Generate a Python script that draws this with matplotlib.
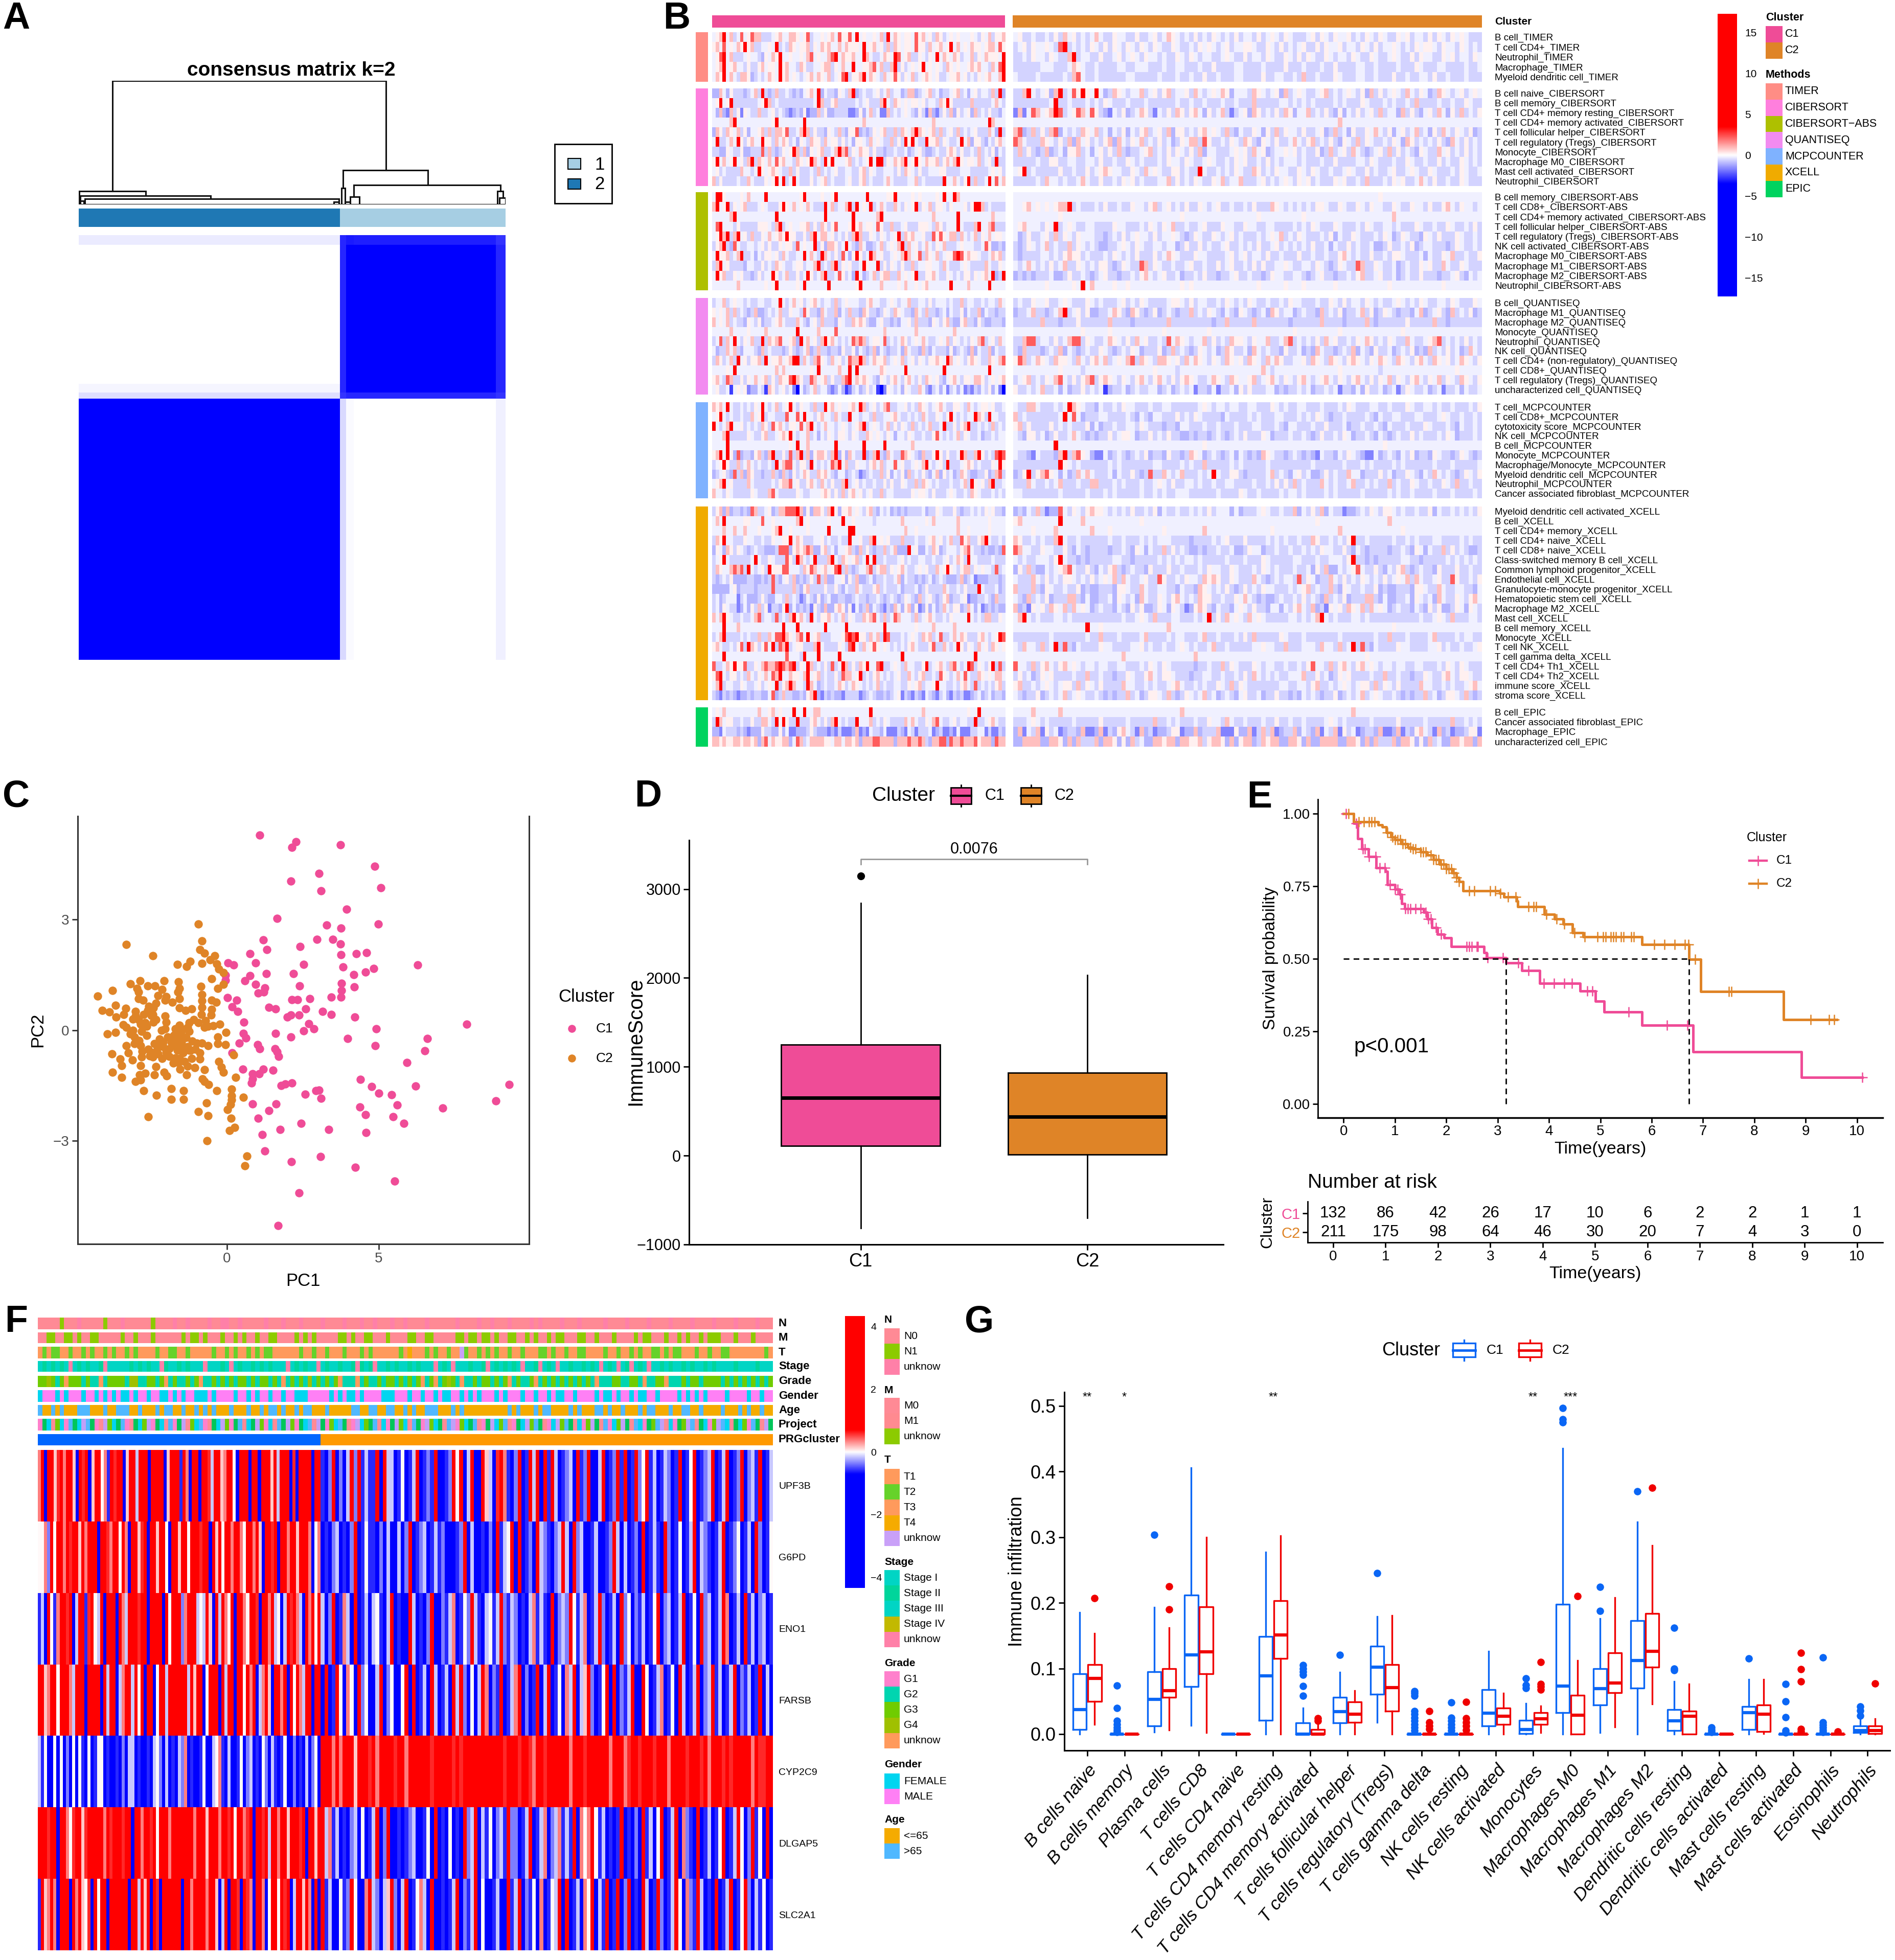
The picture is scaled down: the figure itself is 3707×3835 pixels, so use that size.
# Multi panel figure: consensus matrix, immune heatmap, PCA, boxplots, survival, gene heatmap

import numpy as np
import matplotlib
matplotlib.use("Agg")
import matplotlib.pyplot as plt
from matplotlib.colors import LinearSegmentedColormap, ListedColormap, Normalize
from matplotlib.patches import Rectangle

plt.rcParams['font.family'] = ['Liberation Sans', 'DejaVu Sans']

W, H = 3707, 3835
PINK = '#EF4C97'
ORANGE = '#DF8427'

# Panel A values
A_COL_EDGES = [0, 210, 215, 221, 335, 343]
A_ROW_EDGES = [0, 8, 120, 127, 132, 343]
A_CONSENSUS = [[.08, .85, .90, .88, .80],
               [.00, .85, 1.0, 1.0, .85],
               [.04, .85, 1.0, 1.0, .85],
               [.13, .80, .85, .85, .80],
               [1.0, .15, .02, .00, .06]]
A_MERGES = [(27, 247, 1.0, .106, .277), (.3, 54, .106, 0, .071), (1.4, 106, .071, 0, .053),
            (4.8, 209, .046, 0, 0), (212.5, 280.6, .277, .131, .156), (221, 339, .156, .064, .106),
            (211, 214, .131, 0, 0), (218, 225.5, .064, 0, 0), (336.5, 341, .106, 0, .053),
            (338, 343, .053, 0, 0), (0, 4, .03, 0, 0), (205, 209, .02, 0, 0), (214, 218, .02, 0, 0)]

# Panel B values, one digit per sample column, C1 part then C2 part
B_METHODS = ['TIMER', 'CIBERSORT', 'CIBERSORT-ABS', 'QUANTISEQ', 'MCPCOUNTER', 'XCELL', 'EPIC']
B_METHOD_COLORS = ['#FF8D85', '#FF7FDD', '#AEC000', '#F28BF0', '#7FB2FF', '#F0AB00', '#00D35F']
B_LABELS = [
    ['B cell_TIMER', 'T cell CD4+_TIMER', 'Neutrophil_TIMER', 'Macrophage_TIMER', 'Myeloid dendritic cell_TIMER'],
    ['B cell naive_CIBERSORT', 'B cell memory_CIBERSORT', 'T cell CD4+ memory resting_CIBERSORT',
     'T cell CD4+ memory activated_CIBERSORT', 'T cell follicular helper_CIBERSORT',
     'T cell regulatory (Tregs)_CIBERSORT', 'Monocyte_CIBERSORT', 'Macrophage M0_CIBERSORT',
     'Mast cell activated_CIBERSORT', 'Neutrophil_CIBERSORT'],
    ['B cell memory_CIBERSORT-ABS', 'T cell CD8+_CIBERSORT-ABS', 'T cell CD4+ memory activated_CIBERSORT-ABS',
     'T cell follicular helper_CIBERSORT-ABS', 'T cell regulatory (Tregs)_CIBERSORT-ABS',
     'NK cell activated_CIBERSORT-ABS', 'Macrophage M0_CIBERSORT-ABS', 'Macrophage M1_CIBERSORT-ABS',
     'Macrophage M2_CIBERSORT-ABS', 'Neutrophil_CIBERSORT-ABS'],
    ['B cell_QUANTISEQ', 'Macrophage M1_QUANTISEQ', 'Macrophage M2_QUANTISEQ', 'Monocyte_QUANTISEQ',
     'Neutrophil_QUANTISEQ', 'NK cell_QUANTISEQ', 'T cell CD4+ (non-regulatory)_QUANTISEQ',
     'T cell CD8+_QUANTISEQ', 'T cell regulatory (Tregs)_QUANTISEQ', 'uncharacterized cell_QUANTISEQ'],
    ['T cell_MCPCOUNTER', 'T cell CD8+_MCPCOUNTER', 'cytotoxicity score_MCPCOUNTER', 'NK cell_MCPCOUNTER',
     'B cell_MCPCOUNTER', 'Monocyte_MCPCOUNTER', 'Macrophage/Monocyte_MCPCOUNTER',
     'Myeloid dendritic cell_MCPCOUNTER', 'Neutrophil_MCPCOUNTER', 'Cancer associated fibroblast_MCPCOUNTER'],
    ['Myeloid dendritic cell activated_XCELL', 'B cell_XCELL', 'T cell CD4+ memory_XCELL', 'T cell CD4+ naive_XCELL',
     'T cell CD8+ naive_XCELL', 'Class-switched memory B cell_XCELL', 'Common lymphoid progenitor_XCELL',
     'Endothelial cell_XCELL', 'Granulocyte-monocyte progenitor_XCELL', 'Hematopoietic stem cell_XCELL',
     'Macrophage M2_XCELL', 'Mast cell_XCELL', 'B cell memory_XCELL', 'Monocyte_XCELL', 'T cell NK_XCELL',
     'T cell gamma delta_XCELL', 'T cell CD4+ Th1_XCELL', 'T cell CD4+ Th2_XCELL', 'immune score_XCELL', 'stroma score_XCELL'],
    ['B cell_EPIC', 'Cancer associated fibroblast_EPIC', 'Macrophage_EPIC', 'uncharacterized cell_EPIC'],
]
B_ROWS = [
    [("567957458568774445675577656845565675866859565565749576566586756476456565556546574667", "56445445464756454575446554464456457654546454654546455464565465444564654655645465465446564554646546565444"),
     ("675856576967445565945476566746576755757666595675647476566586647567569575657665677586", "45646556548945454654646546546546544654454656545645566544654645456446465564554654645565454656654655465454"),
     ("568957444565543657695565565785655789576675597544576598567446546595765764557465766659", "44546554654479455446445645654655454465465455445654464554654465464654465455465446544565446465544656455465"),
     ("567956755464467566596755476445567746575595566785744794645656956565476565567675547589", "44444455544457654454444554455544454455444544644445544445444464445444544644445544544445444654445544445445"),
     ("576957547763454576596756545675765745689466795765475686465745676564456675645465675579", "54444544444547854454444445544444544454454464454445544446445544547445444654445544544464454455464454445444")],
    [("337536444345749434744543435675935443654793454456457455347734567453445674535645547493", "44795456379458696595347654557456467455647545657635554765456374565445674545654637464565475465347654564565"),
     ("569569444444456974544444444445974467444445456444795476565665645547696444447444445754", "44444444594454445454654445444544444454454454445445444744444554545454444545444654445454454744445445446544"),
     ("537327462654474456454323436233746334444223635745227454565436427324647364563745464435", "27258756798456875864325463457642546476467536457424563764546476355745464363546456474553746435647536474546"),
     ("555557955555555556955555559555555555555555575555555555555555555755555555555555597555", "55555555555555555555555555555555555555555555555555555555555555555555555575555555555555555555555555555555"),
     ("376476574635567474776844579746443654743668343465674474765797656747456474545644475394", "78347464783545476574535463546745647366454675654743544653647465546445634745364465754635645745364754654634"),
     ("594457596467559664757645365476647566464536654756544746496954496674654459573664354675", "87544476546473756454673754657454645346577486445465476436546445754674546436547465445465376454546437546454"),
     ("443365446334448474346569747365674457978465766464434454453456433454467646445474546354", "47464347345366745356464743445674546465464735544456564756345565645446347456475434564746454365447564546454"),
     ("695756956479476575867554765697549695556745456959946576795696576674675796566574564944", "44444544664455445546445446545444546554654456544546564454645455545444544644445546544454465445446454465454"),
     ("564544447554596567654474644454745456445544674654455546476546445556644445554444456564", "56945444446445446456765544654756544664544954454546544764546554465465445445654464544564456544654445465445"),
     ("746444454475444656959459544464567454445644674544457544445574544444955754694744595857", "44444547554544575446445465645444557464546544657455744456454565465645444656445474445465644575464454465444")],
    [("599655556575555955555555569555565569555555559555556695555656555565955975555555555555", "55555555555555555555555555555555555555555555555555555555555555555555555555555555565555555555555555555555"),
     ("795694656744456544469657565754449574557949565945754475465694657466546555646997454444", "55675656567794544454644544655467456454644654564454454644476545454546654465446546554465446554644675465545"),
     ("555557955555555555955555555555559555555595555557955555555555555755555595555555557555", "55555555556555555555555555555555555556555555555555555565555555556555555555555555555575555555555555555555"),
     ("589555464444466654794565566746476468555696756658644744564446665476455595444795578444", "56755546594565445544446554445465465744544564446554465544554444545465444654445465445545444654454465445464"),
     ("569794795647446575676966446479577564546479744654654569476755644868657747545746575665", "53464456474654655544345464565546455654346544654564544454565745465444546354465444546534654436546444654454"),
     ("467943854455456464465664856559463776459543753345745657947564575465744456555445863343", "43465457454474654543344565465445545534644645445644545464456454545464453544645445334644546345544434654454"),
     ("596674579445354665647544559575497546485369645975644565797568476574566898676654457674", "43444455454676645444546545464446457654446554444564564554644544464454454467545446445466544453544657445446"),
     ("479564444355446454765445664557945479465644596559464654644745566554754445654444754465", "54575454645744654546643465448746544544564454464564454646445565445546543465448744654453454465644754465444"),
     ("596744656443464559645744645964579445864539534574677447565694466754465454664656759349", "34343444533464454345644344546754564453445464434456445443465544554345644344546744564453454464443445643545"),
     ("555555575555555656955555659555555955555556955555755556575565675555559555575555595555", "55555556555556595755556556555555555556565555555555555565555565556555555655555555555655555555555655555555")],
    [("455745655454455445595457564567545547456555446755445654557445546455545447455445455475", "45446556445654446545444564546544445665464554454654546544544546554445446546455465454456545465445546544465"),
     ("656574745434733454574465548644375447354744376443465476544375474434535446354473544344", "34457443457945646334457643764346345434474546543543654345376455345443745463445746346543443573456437454634"),
     ("756574544365463445675444754356474443654476764335644343556474443654674336744364334443", "44444474443444644444474444344444447444444444344744444744444443444444744443444474344444464444474434444444"),
     ("555557555565555755555555955555755558555555555555575555555575555555555755555555555555", "55555555555555565555565555555555565555555556555555555555555555655555555565555555555555655555555555555555"),
     ("458475954657449476785567395756479675454587874566584545764565754456574654546578456475", "44788455464578846544576546475644548576545574645476654655744578454546475644546576454654475445678454546454"),
     ("534475743555437454443464345734744344364463543473543445375443743544436345437354473544", "43744434547354345446543454653444634745434654534764453754544364453437544345473543644534546343745464534754"),
     ("476457495646674956675679947547865475645877974576674565745646546676597565467654476578", "68745765476654754675745657847654776564757654654765647654757644556476547654676546576547654675476564576546"),
     ("555565955555555555757555555565955555755959555555765555595555555555955555555555595555", "55555555556555545555555555555556555545555555555555555557545555555555555565555555545555555555555555655555"),
     ("675487446465756746476689764487567464478957676543654675467546476564356754665776456567", "45674546578546467846765465467546754646765445765476556745675465467545675465467546465746546754657465476546"),
     ("564451565623354176456452053457455323531245346451026545365447532453524535232435463520", "64454574453534464545134453454455345345452443524453646444553434454534454524435364453452465445345244535445")],
    [("767595445454659545745695465547449675655675974564578445564547654567544665475456656445", "54477544454597654435445465544454455444444565455455445544465454455444544454654445544544465445545445444546"),
     ("569545445447569455444855859554675547544955455474455675445454754465469545455976495544", "74544444445958534445544445435435544464546544443544445454445544454546543445444454354455444554445654454454"),
     ("954579556454547648675466585795457554565456794565457464654745457445944646794454547454", "67464444645454446353445445546544434435544454454445444554445435544454464445344544543544454446544454354454"),
     ("555794444465446744567695455745354654665465447656546535546544544685454574654453445455", "54366453464457543434464566534464546443343443454345464446534445445434644546534454354345446454445465344454"),
     ("555595555555555555555565955755555559555555595555595555555755555555555555555555555555", "55555555595555555555555555555555555555555565555555555555555555555555555555555555556555555555555555555555"),
     ("679596383443674379446484794736776479363754493479437544876543744696464459744796454898", "54432544437947865322534543454634436443476534543453543437654434543432544354654322534543546344365443465434"),
     ("456964474575454454957885466495454587957446554675745585644565795456494445676454446596", "44444444449654544444454544444445544445454474444454544444544444444454444445444545444454544444454445444445"),
     ("345643847376443447437436457644767543553454234544746354637454643573645347643344634784", "34694678653534757544453544643484475457444545954466434444574543564533464544755344464534465435475454346546"),
     ("567956444475444445467785644675475464479456454454464644654474765454445445749656479445", "44475445457444544774445454445445654644554544544554444544546464745444754544574454544745446544544654744544"),
     ("755465444446544478544444654455567646474675645644745544444656654644456544547654445454", "55444444445444445444545444445445454455544444454444654454444545545444454544444544444545445444454445444454")],
    [("467373443438744563477888973637764796366756546743545343434444534465444643445454656443", "34354742338546546766545454644546354454454546455535344456544544735464735442334546546654544544635445454546"),
     ("575955555665558556555555795655555655595565555545555555755555565755555575555555565555", "67555555559555575555555555556555555555555555555555555555555555555556555555555555555755555555555555555555"),
     ("555755755755565556795565555655555955555995555555555555575565555555555575565555565555", "55556555575555555755565555555555565555555575555555555555565555555555555575555555555555655555555555555555"),
     ("476955444655445446556695764445564544544955644795656444744454456756457448674467954454", "76445454479544544444454454445454555444434444545644464444545454454476445454694454444454454544455444454544"),
     ("365376465434544333488836767873367453556743746434474573339563354763455546785443433438", "87554465544643543444434454365354474645433434454453346553445445445454655446435434444344543653544746454334"),
     ("456954444445954465444864975459444795476567459594454445645445544544564576495544445444", "54544555469544343444445544344444545454554544444544454446544444554445445554694434344444554434444454545454"),
     ("476557878495456496668855547687567568947434557846774656754456564475696546774656554845", "36474335456785446435467434544364446445444546554465444546545444544536473354568544643546743454436444644544"),
     ("434546333344334348435647343464847335563647334534454457354434345345433347345233344434", "54447546454665454645657475445644864454655476764465444754345455484653447546454654546456574754456448644546"),
     ("333335634444344448444447436744446446435447544467454445344453464444754454644495444534", "74447436544544634334443665447544554435443765454643464546554445456745447436544544634334443665447544554435"),
     ("453455524533346433554745423543634533443345443445434543465437456434673445623344543744", "54374546344477435334453654537544654675454766445446575434334544546454374546344477435334453654537544654675"),
     ("453654423536474624436935343426437336763625347354324375367362363534754663475352343433", "73426564765747565345443543646334653654236764354435654644355354675473426564765747565345443543646334653654"),
     ("757965445445784554845479675495466754574654476785474587555474567544546555595454774465", "57954544455454444444444454456547444554445459464756547565444445545457954544455454444444444454456547444554"),
     ("555955575555555555559555955555559555559555555555595555555565555755555755555555555555", "55555555555555559556555555555555557555555555555555555555555555555555555555555555555565555555555555555555"),
     ("457944445454474475889765785956744455568989664757498444545654767458445757644467545698", "44444444544444445447444544445744445455444574454445464744444654445444444454444444544744454444574444545544"),
     ("675445468497646859487945664447954444654895475686565454546754446844754596465475647656", "54755474594843544446554444556454454456545445744544444556554474445554755474594843544446554444556454454456"),
     ("555955555555555555555855549555955555955555555555555555955555555555555555555955555555", "55555555555555555555555575555555555555557555555555555555555555555555555555555565555555555555555555555555"),
     ("844576966844657877898789465974546484597464769558944565475544694567547854598465469484", "85547467546756545545544554445465465444443445447465444654554454454685547467546756545545544554445465465444"),
     ("689546645475465758795576657956745446487756945467545456447546744548654575854476565775", "46453465644445447445443446544675466544434455445445464754545445557446453465644445447445443446544675466544"),
     ("579455446544564565946797554975345445764576545457454455446567455695544546754845454674", "67445456545664746546444475544545445675445454465474654444444554455467445456545664746546444475544545445675"),
     ("432434323343443358347443343679324343324444234543343456243243254324532434223453453443", "54344634545745654454343447453466547434654574534543564453446443435454344634545745654454343447453466547434")],
    [("565755555555575567565559559557755555555555555955555555555555755555555555565595555555", "55557555557555555555555555555555555557555555555555555555555555555555555555575555555555555555555555555555"),
     ("497566445446447754959644944467546479545449555745465444475754465785445645544944567544", "44456545444445444446444445444447445454445446554754454445446445445444456545444445444446444445444447445454"),
     ("332544434323336443363522333464333232422237232544352224325424445234223252224455242243", "37254726452344372237243675427342334662337344472226337247472344735437254726452344372237243675427342334662"),
     ("776766776776737857667735874577776657757767377788777737778778743778838778777867773877", "33777733776373744473776363745337767737766746776373677347677337763733777733776373744473776363745337767737")],
]

# Panel C values
C1_PC1 = [1.08, 2.28, 2.14, 3.74, 4.87, 3.04, 2.11, 5.07, 3.10, 3.94, 1.65, 3.29, 3.75, 4.99, 1.20, 2.97, 3.49, 3.74, 2.41, 1.32,
          .75, 3.75, 4.27, 4.60, .94, 2.53, .04, .22, 6.28, 3.82, 4.84, 4.57, 4.18, 1.30, 2.19, .75, -.05, -.05, .59, .94,
          3.78, 2.39, 1.25, 4.19, 1.21, 1.03, 3.78, 3.75, 3.44, 2.73, 2.14, 2.33, .01, .32, .16, .35, 1.38, 1.60, 2.59, 3.15,
          3.44, 2.38, 2.11, 1.98, 4.21, .55, 7.90, 2.69, 2.86, 2.53, 4.92, 1.60, .54, .63, 2.10, 3.98, 6.60, .40, 1.01, 1.08,
          4.88, 6.53, 1.59, 1.65, 1.71, .17, 5.93, .52, 1.52, 1.20, .85, 1.06, .85, .81, 4.40, 2.14, 1.92, 1.79, 4.77, 6.22,
          9.30, 3.04, 2.94, 2.57, 5.01, 5.43, 3.10, .85, 1.61, 5.62, 4.38, 8.86, 7.12, 1.38, 4.57, 5.47, 1.03, 2.45, 5.83, 1.75,
          3.36, 4.58, 1.17, 1.25, 3.09, 2.12, 4.23, 5.52, 2.37, 1.69]
C1_PC2 = [5.29, 5.11, 4.97, 5.03, 4.45, 4.26, 4.04, 3.86, 3.78, 3.29, 3.04, 2.85, 2.77, 2.88, 2.45, 2.47, 2.47, 2.34, 2.27, 2.18,
          2.08, 2.05, 2.08, 2.11, 1.83, 1.78, 1.82, 1.77, 1.77, 1.72, 1.67, 1.58, 1.51, 1.53, 1.53, 1.48, 1.49, 1.35, 1.34, 1.24,
          1.27, 1.20, 1.15, 1.17, 1.04, 1.00, 1.08, .89, .89, .86, .82, .83, .88, .81, .63, .50, .62, .57, .58, .50,
          .42, .41, .41, .35, .35, .22, .16, .18, .04, -.02, .04, -.09, -.09, -.21, -.19, -.23, -.23, -.35, -.39, -.50,
          -.43, -.56, -.51, -.59, -.71, -.62, -.88, -1.06, -1.09, -1.06, -1.19, -1.19, -1.32, -1.43, -1.34, -1.43, -1.46, -1.50, -1.53, -1.52,
          -1.48, -1.63, -1.65, -1.74, -1.72, -1.75, -1.86, -2.00, -2.00, -2.04, -2.09, -1.92, -2.12, -2.19, -2.30, -2.36, -2.40, -2.53, -2.54, -2.70,
          -2.70, -2.78, -2.84, -3.28, -3.44, -3.58, -3.73, -4.10, -4.42, -5.31]
C2_PC1 = [-.94, -.83, -3.32, -.9, -.74, -2.45, -.4, -.55, -1.22, -.82, -1.64, -1.33, -.34, -.27, -.12, -.51, -2.86, -2.07, -3.19, -2.62,
          -2.38, -1.6, -.86, -.12, -.31, -3.78, -2.96, -2.14, -1.57, -4.26, -2.92, -2.28, -2, -1.61, -.83, -2.92, -2.76, -2.04, -1.57, -.83,
          -.51, -.35, -3.67, -2.34, -1.81, -2.58, -2.43, -3.33, -1.56, -1.17, -1.37, -.5, -.82, -4.11, -3.88, -3.01, -2.62, -2.45, -3.01, -.85,
          -.52, -3.66, -2.04, -2.92, -2.42, -1.1, -1.24, -.23, -3.43, -2.85, -1.57, -.62, -2.04, -3.32, -2.65, -1.71, -1.3, -2.81, -3.68, -3.95,
          -3.19, -.03, -1.57, -1.24, -3.05, -1.95, -2.22, -1.68, -1.44, -.3, -3.32, -2.85, -2.39, -2.11, -1.84, -1.57, -.83, -.63, -.3, -.05,
          -3.05, -1.64, -1.24, -2.27, -3.79, -3.25, -.9, -2.81, -2.45, -2.14, -3.52, -3.12, -1.57, -1.17, -.9, .22, -.27, -1.77, -2.85, -3.48,
          -1.06, -2.35, -1.55, -.74, -.19, -.11, -3.78, -2.89, -2.7, -2.39, -2.07, -1.33, -3.48, -1.99, .28, -2.85, -3.02, -.81, -.75, -.6,
          -1.83, .15, -2.74, -1.44, -.34, .15, -2.33, .54, -1.84, -1.44, .15, .11, -.67, .01, -.94, -.63, -2.59, .13, .26, .08,
          -.66, .65, .59, -2.1, -1.5, -1.55, -1.35, -1.45, -2.65, -2.7, -3.1, -.95, -1.9, -1.7, -2.5, -2.2, -1.2, -1.4, -1.65, -2.55,
          -1.8, -1.5, -1.3, -2.0, -2.3, -2.6, -2.9, -3.1, -1.75, -1.45, -1.05, -.75, -2.15, -2.5, -2.75, -3.0, -1.9, -1.6, -1.3, -1.0,
          -.7, -.45, -2.35, -3.4, -2.0, -1.15, -1.7, -2.8]
C2_PC2 = [2.88, 2.42, 2.33, 2.19, 2.09, 2.02, 2.02, 1.91, 1.87, 1.81, 1.78, 1.73, 1.8, 1.66, 1.56, 1.4, 1.34, 1.34, 1.25, 1.2,
          1.2, 1.31, 1.19, 1.24, 1.13, 1.08, 1.13, 1.11, 1.13, .92, 1.03, .94, .91, 1.03, .96, .85, .81, .81, .85, .8,
          .81, .76, .67, .73, .75, .65, .6, .59, .6, .58, .54, .56, .62, .54, .49, .51, .53, .42, .38, .42,
          .41, .36, .38, .29, .22, .29, .2, .16, .14, .16, .13, .1, .04, .07, .1, .04, .07, -.04, -.06, -.1,
          -.11, -.06, -.06, -.04, -.19, -.19, -.24, -.18, -.19, -.19, -.42, -.42, -.37, -.33, -.33, -.37, -.35, -.42, -.37, -.39,
          -.37, -.55, -.55, -.64, -.65, -.62, -.62, -.73, -.73, -.77, -.79, -.81, -.77, -.77, -.79, -.68, -.86, -.9, -.97, -.97,
          -1.02, -.99, -1.06, -1.08, -1.01, -1.14, -1.15, -1.21, -1.17, -1.21, -1.14, -1.21, -1.28, -1.24, -1.28, -1.35, -1.39, -1.33, -1.39, -1.48,
          -1.59, -1.61, -1.65, -1.65, -1.65, -1.79, -1.77, -1.83, -1.88, -1.88, -1.89, -2.02, -1.98, -2.16, -2.21, -2.33, -2.35, -2.39, -2.65, -2.73,
          -3.0, -3.42, -3.68, -.45, -.5, -.25, -.2, .02, -.15, .2, .3, .2, -.5, -.1, -.6, -.3, -.55, -.85, -.3, -.7,
          -.42, -.32, -.45, -.6, -.48, -.52, -.28, .0, -.15, -.62, -.52, .08, .0, .4, .42, -.32, -.72, -.88, -.98, -.35,
          .25, .12, .28, .42, .22, -.3, -.75, -.58]

# Panel D values
D_STATS = [dict(label='C1', whislo=-815, q1=113, med=650, q3=1250, whishi=2840, fliers=[3150]),
           dict(label='C2', whislo=-700, q1=10, med=440, q3=930, whishi=2030, fliers=[])]
D_PVALUE = '0.0076'

# Panel E values
KM_C1_T = [0, .09, .2, .28, .36, .49, .63, .81, .85, 1.0, 1.09, 1.13, 1.19, 1.56, 1.63, 1.72, 1.83, 1.96, 2.1, 2.74, 2.79, 3.16, 3.47, 3.82, 4.61, 4.91, 5.07, 5.81, 6.81, 8.92, 10.1]
KM_C1_S = [1, 1, .967, .914, .879, .853, .814, .802, .755, .739, .723, .69, .672, .66, .637, .607, .584, .572, .542, .521, .504, .486, .46, .416, .389, .354, .317, .271, .18, .092, .092]
KM_C1_CENS = [.05, .25, .38, .42, .5, .62, .7, .8, .9, 1, 1.05, 1.1, 1.2, 1.25, 1.3, 1.4, 1.5, 1.6, 1.65, 1.7, 1.8, 1.9, 2.4, 2.45, 2.5, 2.6, 2.62, 2.8, 3.1, 3.4, 3.6, 3.9, 4.1, 4.3, 4.45, 4.75, 4.85, 5.55, 6.3, 6.7, 10.1]
KM_C2_T = [0, .09, .2, .59, .67, .75, .83, .92, 1.0, 1.13, 1.25, 1.34, 1.5, 1.63, 1.75, 1.87, 2.0, 2.12, 2.2, 2.25, 2.33, 3.04, 3.12, 3.37, 3.39, 3.91, 4.11, 4.28, 4.46, 4.67, 5.81, 6.73, 6.96, 8.57, 9.6]
KM_C2_S = [1, 1, .973, .973, .962, .955, .935, .92, .91, .896, .885, .879, .868, .858, .842, .826, .81, .797, .78, .767, .735, .725, .713, .699, .68, .654, .637, .62, .59, .576, .55, .499, .388, .291, .291]
KM_C2_CENS = [.1, .3, .4, .5, .55, .6, .85, .95, 1, 1.05, 1.1, 1.15, 1.2, 1.3, 1.35, 1.4, 1.5, 1.55, 1.6, 1.7, 1.75, 1.8, 1.85, 1.9, 1.95, 2, 2.05, 2.1, 2.15, 2.2, 2.25, 2.45, 2.55, 2.85, 2.95, 3.05, 3.2, 3.35, 3.6, 3.7, 3.75, 3.95, 4.15, 4.3, 4.5, 4.7, 4.95, 5.05, 5.1, 5.2, 5.25, 5.3, 5.4, 5.45, 5.6, 5.65, 6.05, 6.25, 6.45, 6.65, 6.72, 6.85, 7.5, 7.55, 9.1, 9.45, 9.55]
RISK_TIMES = [0, 1, 2, 3, 4, 5, 6, 7, 8, 9, 10]
RISK_C1 = [132, 86, 42, 26, 17, 10, 6, 2, 2, 1, 1]
RISK_C2 = [211, 175, 98, 64, 46, 30, 20, 7, 4, 3, 0]

# Panel F values
F_GENES = ['UPF3B', 'G6PD', 'ENO1', 'FARSB', 'CYP2C9', 'DLGAP5', 'SLC2A1']
F_ROWS = [
    ("680885786885087805884618788058838880888805888186088088738856884088808808885838880708888088", "1028020382813118083301401380121800128480380085307861028018380818301230812800380128180182481301320180148012380138012802318013"),
    ("4462848868788586888088768848608857808858840885884888788085848868864886850887808868858886046", "0102301028014110203003028012301312000128030010208134808012083210238308230013001283030120801310820140138032101380124013082014"),
    ("1308416887803881784380888086388878808888084888268883438508386480886488708868340387863086848", "3028016308013034103801008301028002136014283103413821320103613108023284136013820130824021301480230138014082301386013081302301"),
    ("8856884888638880888808388036883848088048838888883858804888083880884868036850886808486388088", "0801840640824003802400480801308301308382040386021801368020180380140638035820148080213800840136014083013802381301380213018030"),
    ("3140040402040410401440100102033010010342030103260100140034610300140230104203101400201030240", "8886868885888786888878868888887888887878888888888878887887688788888868887888888688867887888788868888788878688878788888687788"),
    ("8887880886478857888886878887880886887848886888888868885888688784886780887838868858887808858", "8361301023040138028001012300140801040108238031402318220138013602361318064684130101801020813048013806210801301480138402814080"),
    ("1856860888086854708488088888808838580870888888088688886885038088708760886048848780388586080", "8130041284006832035820380146308001013802138040013008138021406014380801306480318018028010830182013840621830108013801482031401"),
]
F_N = "0000010002000001000200000010000200200002002200200000200020002000020000200020020002002000020000002000020020002000020200002000200000200002000020000200002000020000200002000"
F_M = "0011001101001100000100100010000001011010001001010010011000010101000001101001100010000110011000001101101101001100101001011000110010001000010110001001010010111000100010000"
F_T = "2121122122121021212212120221221122122222122121221212112222221221221222122212122222212322212122122412212121221221222112122122112222122122121221121211222122122112222222212"
F_STAGE = "0101010401010014000001010100410010100040001040100101010004010100401001001410140010100101000401040001001401010104001401040010010104010401401040010100101001010000100001000"
F_GRADE = "2232124222121141222213311221241211212411212121221212212141212131212124111412112122121212412412321411212212124121124121212121212141112211221411224111212212222121212121212"
F_GENDER = "0111010111011010101001011011001010110001011110110101101101100011111010100101111000111011011010011010101110101110110110100110111101001011010011011110101010111101111011011"
F_AGE = "1001010001110001001110010001011001001010100010001001011010010110001000001100110011001010011100010100000000001010001011000010100011010010001011000100110010000100010100100"
F_PROJECT = "2015612401340253610425016320154203561425013620451036215403620145302614052316045120361540236105432610452031645201364052136405126305421630541206435120634501263415016240530"
F_SPLIT = [0, 132, 343]

# Panel F legends
F_LEGENDS = [
    ('N', ['N0', 'N1', 'unknow'], ['#FF8A95', '#8CCB00', '#FF80A8'], 2583, 2599),
    ('M', ['M0', 'M1', 'unknow'], ['#FF8A95', '#FF8A90', '#8CCB00'], 2720, 2735),
    ('T', ['T1', 'T2', 'T3', 'T4', 'unknow'], ['#FF9A5C', '#66D22A', '#FF9A5C', '#F5AB00', '#C9A0F8'], 2857, 2874),
    ('Stage', ['Stage I', 'Stage II', 'Stage III', 'Stage IV', 'unknow'], ['#00D5C4', '#00D59B', '#00D5C4', '#C2B900', '#FF80A8'], 3056, 3072),
    ('Grade', ['G1', 'G2', 'G3', 'G4', 'unknow'], ['#FF80CC', '#00D5B0', '#70CC00', '#A0C000', '#FF9A5C'], 3255, 3270),
    ('Gender', ['FEMALE', 'MALE'], ['#00D5F0', '#FF80F5'], 3453, 3470),
    ('Age', ['<=65', '>65'], ['#F5AB00', '#50B8FF'], 3561, 3577),
]
F_PROJECT_COLORS = ['#00C65A', '#00D5F0', '#FF80CC', '#C0A0F8', '#50B8FF', '#FF8A95', '#70CC00']

# Panel G values
G_LABELS = ['B cells naive', 'B cells memory', 'Plasma cells', 'T cells CD8', 'T cells CD4 naive',
            'T cells CD4 memory resting', 'T cells CD4 memory activated', 'T cells follicular helper',
            'T cells regulatory (Tregs)', 'T cells gamma delta', 'NK cells resting', 'NK cells activated',
            'Monocytes', 'Macrophages M0', 'Macrophages M1', 'Macrophages M2', 'Dendritic cells resting',
            'Dendritic cells activated', 'Mast cells resting', 'Mast cells activated', 'Eosinophils', 'Neutrophils']
G_C1 = [(0, .007, .037, .092, .185), (0, 0, 0, 0, 0), (.003, .012, .053, .095, .193), (.013, .072, .121, .212, .406), (0, 0, 0, 0, 0),
        (0, .021, .089, .149, .277), (0, 0, 0, .017, .04), (0, .017, .034, .056, .094), (.018, .061, .102, .134, .179), (0, 0, 0, 0, 0),
        (0, 0, 0, 0, 0), (0, .012, .032, .068, .126), (0, .001, .007, .021, .047), (0, .033, .073, .198, .435), (.002, .044, .069, .1, .176),
        (0, .07, .112, .173, .323), (0, .005, .02, .037, .08), (0, 0, 0, 0, 0), (0, .007, .033, .042, .083), (0, 0, 0, 0, 0), (0, 0, 0, 0, 0),
        (0, .002, .005, .012, .025)]
G_C2 = [(.015, .05, .085, .106, .153), (0, 0, 0, 0, 0), (.006, .056, .066, .1, .162), (.002, .092, .125, .194, .3), (0, 0, 0, 0, 0),
        (0, .115, .151, .203, .302), (0, 0, 0, .007, .015), (0, .018, .03, .049, .066), (0, .035, .071, .106, .181), (0, 0, 0, 0, 0),
        (0, 0, 0, 0, 0), (0, .015, .027, .04, .062), (.002, .015, .023, .033, .043), (0, 0, .029, .059, .112), (.011, .063, .078, .124, .208),
        (.046, .102, .126, .184, .287), (0, 0, .027, .035, .076), (0, 0, 0, 0, 0), (.001, .004, .03, .044, .083), (0, 0, 0, 0, 0), (0, 0, 0, 0, 0),
        (0, .001, .005, .012, .023)]
G_C1_FLIERS = [[], [.003, .006, .01, .015, .02, .04, .074], [.304], [], [], [], [.058, .073, .09, .095, .1, .105], [.121], [.245],
               [.005, .01, .015, .02, .025, .03, .035, .058, .062, .065], [.005, .01, .015, .02, .025, .048], [], [.07, .075, .085],
               [.475, .48, .497], [.188, .224], [.37], [.097, .1, .162], [.003, .006, .01], [.115], [.002, .005, .026, .05, .076],
               [.003, .006, .01, .014, .018, .117], [.028, .036, .042]]
G_C2_FLIERS = [[.207], [], [.19, .225], [], [], [], [.02, .024], [], [], [.008, .012, .018, .035], [.006, .012, .018, .024, .049], [],
               [.068, .072, .076, .11], [.21], [], [.375], [], [], [], [.004, .008, .08, .099, .124], [.004], [.077]]
G_SIG = {1: '**', 2: '*', 6: '**', 13: '**', 14: '***'}
G_BLUE = '#0A66F5'
G_RED = '#F00000'

# Colour scales
B_LEVELS = [-6, -2.6, -1.65, -1, -.58, -.2, .2, .88, 2.2, 6]
F_LEVELS = [-3, -.6, -.35, -.15, 0, .15, .35, .6, 3]
b_cmap = LinearSegmentedColormap.from_list('b', [(0, '#0000FF'), (.5 - 3.5 / 34.6, '#0000FF'), (.5, '#FFFFFF'), (.5 + 3.5 / 34.6, '#FF0000'), (1, '#FF0000')])
b_norm = Normalize(-17.3, 17.3)
f_cmap = LinearSegmentedColormap.from_list('f', [(0, '#0000FF'), (.5 - .7 / 8.6, '#0000FF'), (.5, '#FFFFFF'), (.5 + .7 / 8.6, '#FF0000'), (1, '#FF0000')])
f_norm = Normalize(-4.3, 4.3)


fig = plt.figure(figsize=(W / 100, H / 100), dpi=100)


def px_axes(x0, y0, x1, y1):
    return fig.add_axes([x0 / W, 1 - y1 / H, (x1 - x0) / W, (y1 - y0) / H])


def clear_axes(ax):
    ax.set_xticks([])
    ax.set_yticks([])
    for s in ax.spines.values():
        s.set_visible(False)


def draw_row(ax, codes, x0, x1, row, levels, cmap, norm):
    vals = np.array([levels[int(c)] for c in codes])[None, :]
    ax.pcolormesh(np.linspace(x0, x1, len(codes) + 1), [row, row + 1], vals, cmap=cmap, norm=norm)


# overlay in pixel coordinates for letters and hand placed legends
ov = px_axes(0, 0, W, H)
ov.set_xlim(0, W)
ov.set_ylim(H, 0)
ov.axis('off')
ov.set_zorder(10)


def txt(x, y, s, size, **kw):
    kw.setdefault('va', 'center')
    ov.text(x, y, s, fontsize=size, **kw)


def rect(x0, y0, x1, y1, color, **kw):
    ov.add_patch(Rectangle((x0, y0), x1 - x0, y1 - y0, facecolor=color, edgecolor=kw.pop('edgecolor', 'none'), **kw))


for letter, lx, ly in [('A', 32, 37), ('B', 1324, 37), ('C', 32, 1559), ('D', 1268, 1559), ('E', 2464, 1561), ('F', 32, 2587), ('G', 1916, 2587)]:
    txt(lx, ly, letter, 53, ha='center', fontweight='bold')

# ---------- A ----------
ax = px_axes(154, 460, 989, 1291)
ax.pcolormesh(A_COL_EDGES, A_ROW_EDGES, np.array(A_CONSENSUS), cmap=LinearSegmentedColormap.from_list('w', ['#FFFFFF', '#0000FF']), vmin=0, vmax=1)
ax.set_ylim(343, 0)
clear_axes(ax)

ax = px_axes(154, 408, 989, 444)
ax.pcolormesh([0, 210, 343], [0, 1], np.array([[0, 1]]), cmap=ListedColormap(['#1F78B4', '#A6CEE3']))
clear_axes(ax)

ax = px_axes(154, 158, 989, 400)
for xl, xr, top, hl, hr in A_MERGES:
    ax.plot([xl, xl, xr, xr], [hl, top, top, hr], color='#111111', lw=2.2, solid_joinstyle='miter')
ax.plot([0, 344], [0, 0], color='#111111', lw=2.2)
ax.set_xlim(0, 343)
ax.set_ylim(0, 1)
ax.patch.set_alpha(0)
clear_axes(ax)
txt(570, 138, 'consensus matrix k=2', 28, ha='center', fontweight='bold')
rect(1085, 282, 1197, 398, 'none', edgecolor='black', linewidth=2)
rect(1111, 310, 1136, 331, '#A6CEE3', edgecolor='black', linewidth=1.5)
rect(1111, 350, 1136, 370, '#1F78B4', edgecolor='black', linewidth=1.5)
txt(1173, 323, '1', 25, ha='center')
txt(1173, 361, '2', 25, ha='center')

# ---------- B ----------
rect(1393, 30, 1966, 54, PINK)
rect(1981, 30, 2899, 54, ORANGE)
txt(2924, 42, 'Cluster', 15, fontweight='bold')
B_TOPS = [(63, 160), (172.5, 364), (376, 568), (583, 771.5), (787, 975), (991, 1370), (1384, 1460.5)]
for i, (y0, y1) in enumerate(B_TOPS):
    rect(1361, y0, 1385, y1, B_METHOD_COLORS[i])
    ax = px_axes(1393, y0, 2899, y1)
    for r, (c1, c2) in enumerate(B_ROWS[i]):
        draw_row(ax, c1, 0, 132, r, B_LEVELS, b_cmap, b_norm)
        draw_row(ax, c2, 135.5, 346.5, r, B_LEVELS, b_cmap, b_norm)
    ax.set_xlim(0, 346.5)
    ax.set_ylim(len(B_ROWS[i]), 0)
    ax.set_xticks([])
    ax.yaxis.tick_right()
    ax.set_yticks(np.arange(len(B_LABELS[i])) + .5)
    ax.set_yticklabels(B_LABELS[i], fontsize=13.5)
    ax.tick_params(axis='y', length=0, pad=18)
    for s in ax.spines.values():
        s.set_visible(False)

ax = px_axes(3360, 27, 3398, 580)
ax.imshow(np.linspace(17.3, -17.3, 512)[:, None], cmap=b_cmap, norm=b_norm, aspect='auto', extent=[0, 1, -17.3, 17.3])
ax.set_xticks([])
ax.yaxis.tick_right()
ax.set_yticks([15, 10, 5, 0, -5, -10, -15])
ax.tick_params(axis='y', length=0, labelsize=15, pad=11)
for s in ax.spines.values():
    s.set_visible(False)
txt(3454, 35, 'Cluster', 15.5, fontweight='bold')
rect(3454, 51, 3487, 83, PINK)
rect(3454, 83, 3487, 115, ORANGE)
txt(3492, 67, 'C1', 15.5)
txt(3492, 99, 'C2', 15.5)
txt(3454, 146, 'Methods', 15.5, fontweight='bold')
for i, m in enumerate(B_METHODS):
    rect(3454, 163 + i * 31.8, 3487, 163 + (i + 1) * 31.8, B_METHOD_COLORS[i])
    txt(3492, 163 + (i + .5) * 31.8, m.replace('-', '\u2212'), 15.5)

# ---------- C ----------
ax = px_axes(151.5, 1597, 1035, 2434)
ax.scatter(C1_PC1, C1_PC2, s=140, color=PINK, linewidths=0)
ax.scatter(C2_PC1, C2_PC2, s=140, color=ORANGE, linewidths=0)
ax.set_xlim(-4.93, 9.96)
ax.set_ylim(-5.81, 5.81)
ax.set_xticks([0, 5])
ax.set_yticks([-3, 0, 3])
ax.tick_params(labelsize=20, labelcolor='#4D4D4D', color='#333333', length=8, width=2)
ax.spines['top'].set_visible(False)
for s in ['left', 'bottom', 'right']:
    ax.spines[s].set_linewidth(2.2)
    ax.spines[s].set_color('#333333')
ax.set_xlabel('PC1', fontsize=25, labelpad=10)
ax.set_ylabel('PC2', fontsize=25, labelpad=10)
txt(1092, 1951, 'Cluster', 25)
ov.scatter([1119, 1119], [2013, 2071], s=125, color=[PINK, ORANGE], linewidths=0)
txt(1166, 2013, 'C1', 19)
txt(1166, 2071, 'C2', 19)

# ---------- D ----------
ax = px_axes(1348, 1644, 2393, 2435)
bp = ax.bxp(D_STATS, positions=[1, 2], widths=.7, patch_artist=True, showcaps=False,
            boxprops=dict(linewidth=2, edgecolor='black'), medianprops=dict(color='black', linewidth=5),
            whiskerprops=dict(color='black', linewidth=2),
            flierprops=dict(marker='o', markerfacecolor='black', markeredgecolor='black', markersize=10))
for patch, c in zip(bp['boxes'], [PINK, ORANGE]):
    patch.set_facecolor(c)
ax.plot([1, 1, 2, 2], [3280, 3340, 3340, 3280], color='#999999', lw=2)
ax.text(1.5, 3360, D_PVALUE, ha='center', va='bottom', fontsize=22)
ax.set_xlim(.243, 2.6)
ax.set_ylim(-1000, 3550)
ax.set_yticks([-1000, 0, 1000, 2000, 3000])
ax.tick_params(axis='y', labelsize=22, length=8, width=2)
ax.tick_params(axis='x', labelsize=26, length=8, width=2)
ax.spines['top'].set_visible(False)
ax.spines['right'].set_visible(False)
ax.spines['left'].set_linewidth(2.2)
ax.spines['bottom'].set_linewidth(2.2)
txt(1243, 2038, 'ImmuneScore', 29, rotation=90, ha='center')
txt(1706, 1557, 'Cluster', 28)
for kx, c, name in [(1860, PINK, 'C1'), (1997, ORANGE, 'C2')]:
    ov.plot([kx + 20, kx + 20], [1536, 1578], color='black', lw=2)
    rect(kx, 1541, kx + 40, 1573, c, edgecolor='black', linewidth=2, zorder=3)
    ov.plot([kx, kx + 40], [1557, 1557], color='black', lw=3, zorder=4)
    txt(kx + 66, 1557, name, 22)

# ---------- E ----------
ax = px_axes(2578, 1564, 3683, 2186.5)
ax.step(KM_C1_T, KM_C1_S, where='post', color=PINK, lw=3.6)
ax.step(KM_C2_T, KM_C2_S, where='post', color=ORANGE, lw=3.6)
for cens, tt, ss, c in [(KM_C1_CENS, KM_C1_T, KM_C1_S, PINK), (KM_C2_CENS, KM_C2_T, KM_C2_S, ORANGE)]:
    idx = np.searchsorted(tt, cens, side='right') - 1
    ax.plot(cens, np.array(ss)[idx], '+', color=c, ms=15, mew=1.8)
ax.plot([0, 6.73], [.5, .5], color='black', lw=2, ls=(0, (4, 3)))
ax.plot([3.16, 3.16], [0, .5], color='black', lw=2, ls=(0, (4, 3)))
ax.plot([6.73, 6.73], [0, .5], color='black', lw=2, ls=(0, (4, 3)))
ax.text(.2, .197, 'p<0.001', fontsize=29, va='center')
ax.set_xlim(-.5, 10.5)
ax.set_ylim(-.047, 1.05)
ax.set_xticks(RISK_TIMES)
ax.set_yticks([0, .25, .5, .75, 1])
ax.set_yticklabels(['0.00', '0.25', '0.50', '0.75', '1.00'])
ax.tick_params(labelsize=20, length=7, width=2)
ax.spines['top'].set_visible(False)
ax.spines['right'].set_visible(False)
ax.spines['left'].set_linewidth(2)
ax.spines['bottom'].set_linewidth(2.5)
ax.set_xlabel('Time(years)', fontsize=24.5, labelpad=4)
ax.set_ylabel('Survival probability', fontsize=24, labelpad=6)
txt(3417, 1639, 'Cluster', 18)
for yy, c, name in [(1684, PINK, 'C1'), (1729, ORANGE, 'C2')]:
    ov.plot([3422, 3456], [yy, yy], color=c, lw=3.2)
    ov.plot([3439], [yy], '+', color=c, ms=15, mew=1.8)
    txt(3475, yy, name, 17.5)

ax = px_axes(2558, 2350.6, 3683, 2431)
for t, a, b in zip(RISK_TIMES, RISK_C1, RISK_C2):
    ax.text(t, 1, str(a), ha='center', va='center', fontsize=22.5)
    ax.text(t, 0, str(b), ha='center', va='center', fontsize=22.5)
ax.set_xlim(-.488, 10.49)
ax.set_ylim(-.54, 1.63)
ax.set_xticks(RISK_TIMES)
ax.set_yticks([0, 1])
ax.set_yticklabels(['C2', 'C1'])
ax.get_yticklabels()[0].set_color(ORANGE)
ax.get_yticklabels()[1].set_color(PINK)
ax.tick_params(axis='x', labelsize=20, length=7, width=2)
ax.tick_params(axis='y', labelsize=21, length=7, width=2)
ax.spines['top'].set_visible(False)
ax.spines['right'].set_visible(False)
ax.spines['left'].set_linewidth(2)
ax.spines['bottom'].set_linewidth(2)
ax.set_xlabel('Time(years)', fontsize=24.5, labelpad=4)
txt(2558, 2314, 'Number at risk', 28)
txt(2479, 2391, 'Cluster', 23, rotation=90, ha='center')

# ---------- F ----------
F_ANN_ROWS = [('N', F_N, ['#FF8A95', '#8CCB00', '#FF80A8'], 2578, 2600.7), ('M', F_M, ['#FF8A95', '#8CCB00'], 2607, 2628),
              ('T', F_T, ['#FF9A5C', '#66D22A', '#FF9A5C', '#F5AB00', '#C9A0F8'], 2635, 2657.7),
              ('Stage', F_STAGE, ['#00D5C4', '#00D59B', '#00D5C4', '#C2B900', '#FF80A8'], 2663, 2684),
              ('Grade', F_GRADE, ['#FF80CC', '#00D5B0', '#70CC00', '#A0C000', '#FF9A5C'], 2692, 2713.7),
              ('Gender', F_GENDER, ['#00D5F0', '#FF80F5'], 2720, 2742.7), ('Age', F_AGE, ['#F5AB00', '#50B8FF'], 2749, 2770),
              ('Project', F_PROJECT, F_PROJECT_COLORS, 2776, 2799)]
for name, codes, colors, y0, y1 in F_ANN_ROWS:
    ax = px_axes(74, y0, 1512, y1)
    vals = np.array([int(c) for c in codes])[None, :]
    ax.pcolormesh(np.linspace(0, 343, len(codes) + 1), [0, 1], vals, cmap=ListedColormap(colors), vmin=0, vmax=len(colors) - 1)
    clear_axes(ax)
    txt(1523, (y0 + y1) / 2, name, 16, fontweight='bold')
ax = px_axes(74, 2805.7, 1512, 2828)
ax.pcolormesh(F_SPLIT, [0, 1], np.array([[0, 1]]), cmap=ListedColormap(['#0066FF', '#FF9900']))
clear_axes(ax)
txt(1523, 2817, 'PRGcluster', 16, fontweight='bold')

ax = px_axes(74, 2837, 1512, 3816)
for r, (c1, c2) in enumerate(F_ROWS):
    draw_row(ax, c1, 0, 132, r, F_LEVELS, f_cmap, f_norm)
    draw_row(ax, c2, 132, 343, r, F_LEVELS, f_cmap, f_norm)
ax.set_xlim(0, 343)
ax.set_ylim(7, 0)
ax.set_xticks([])
ax.yaxis.tick_right()
ax.set_yticks(np.arange(7) + .5)
ax.set_yticklabels(F_GENES, fontsize=14)
ax.tick_params(axis='y', length=0, pad=8)
for s in ax.spines.values():
    s.set_visible(False)

ax = px_axes(1653, 2575, 1692, 3107)
ax.imshow(np.linspace(4.33, -4.33, 512)[:, None], cmap=f_cmap, norm=f_norm, aspect='auto', extent=[0, 1, -4.33, 4.33])
ax.set_xticks([])
ax.yaxis.tick_right()
ax.set_yticks([4, 2, 0, -2, -4])
ax.tick_params(axis='y', length=0, labelsize=14, pad=8)
for s in ax.spines.values():
    s.set_visible(False)

for title, labels, colors, ty, sy in F_LEGENDS:
    txt(1730, ty, title, 15, fontweight='bold')
    for i, (lab, c) in enumerate(zip(labels, colors)):
        rect(1730, sy + i * 30.2, 1760, sy + (i + 1) * 30.2, c)
        txt(1768, sy + (i + .5) * 30.2, lab, 15)

# ---------- G ----------
ax = px_axes(2082, 2724, 3697, 3425)
for stats, fliers, offset, color in [(G_C1, G_C1_FLIERS, -.2, G_BLUE), (G_C2, G_C2_FLIERS, .2, G_RED)]:
    rows = [dict(whislo=s[0], q1=s[1], med=s[2], q3=s[3], whishi=s[4], fliers=f) for s, f in zip(stats, fliers)]
    ax.bxp(rows, positions=np.arange(1, 23) + offset, widths=.36, showcaps=False, manage_ticks=False,
           boxprops=dict(color=color, linewidth=2.4), medianprops=dict(color=color, linewidth=4.5),
           whiskerprops=dict(color=color, linewidth=2.4),
           flierprops=dict(marker='o', markerfacecolor=color, markeredgecolor=color, markersize=9.5))
for cat, star in G_SIG.items():
    ax.text(cat, .513, star, ha='center', va='center', fontsize=17)
ax.set_xlim(.382, 22.6)
ax.set_ylim(-.025, .521)
ax.set_xticks(np.arange(1, 23))
ax.set_xticklabels(G_LABELS, rotation=50, ha='right', rotation_mode='anchor', style='italic', fontsize=25.5)
ax.set_yticks([0, .1, .2, .3, .4, .5])
ax.tick_params(axis='y', labelsize=26, length=8, width=2)
ax.tick_params(axis='x', length=8, width=2, pad=8)
ax.spines['top'].set_visible(False)
ax.spines['right'].set_visible(False)
ax.spines['left'].set_linewidth(2.2)
ax.spines['bottom'].set_linewidth(2.2)
ax.set_ylabel('Immune infiltration', fontsize=26, labelpad=6)
txt(2703, 2642, 'Cluster', 26)
for kx, c, name in [(2842, G_BLUE, 'C1'), (2971, G_RED, 'C2')]:
    ov.plot([kx + 22, kx + 22], [2622, 2662], color=c, lw=2.4)
    rect(kx, 2628, kx + 44, 2655, 'white', edgecolor=c, linewidth=2.4, zorder=3)
    ov.plot([kx, kx + 44], [2642, 2642], color=c, lw=3.5, zorder=4)
    txt(kx + 66, 2642, name, 19)

fig.savefig('out.png', dpi=100)
